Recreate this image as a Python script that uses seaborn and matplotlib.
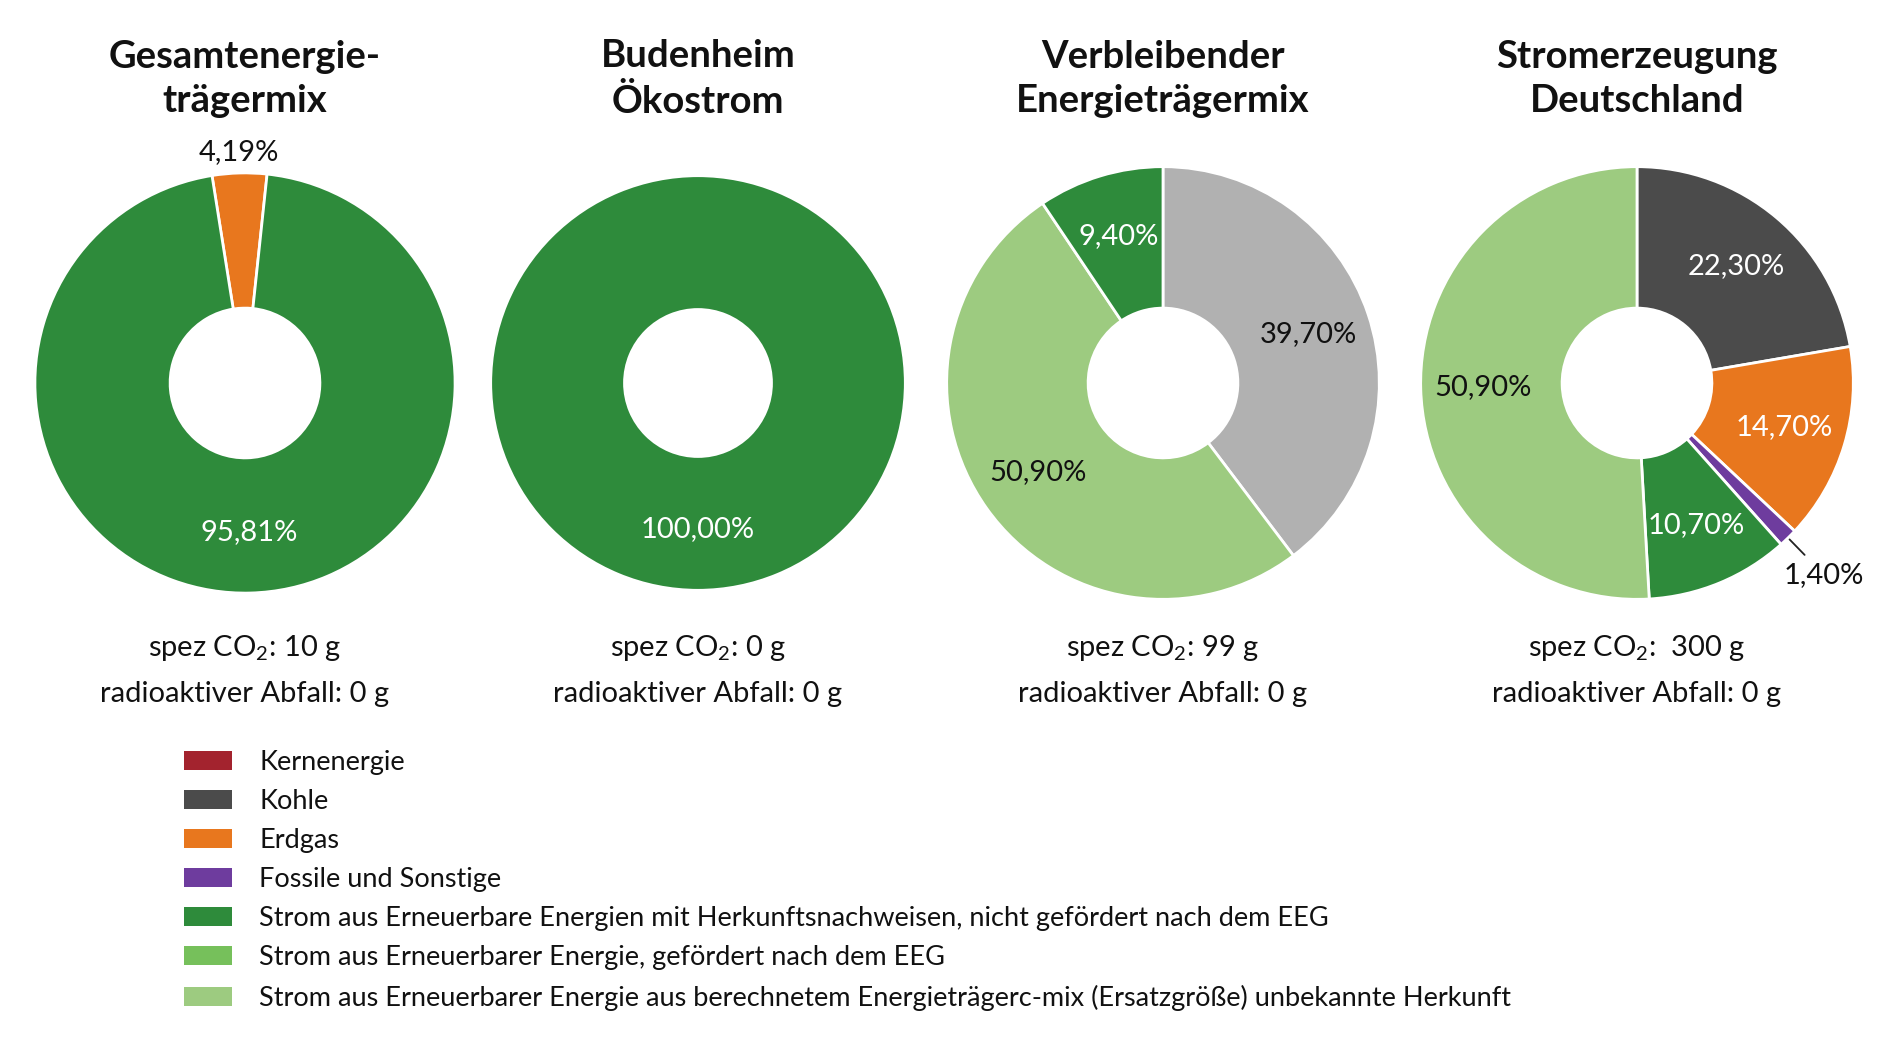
import numpy as np
import matplotlib
matplotlib.use("Agg")
import matplotlib.pyplot as plt
from matplotlib.patches import Patch
import seaborn as sns

# Chart data
titles = ["Gesamtenergie-\nträgermix", "Budenheim\nÖkostrom",
          "Verbleibender\nEnergieträgermix", "Stromerzeugung\nDeutschland"]
co2_values = ["10 g", "0 g", "99 g", " 300 g"]
waste_values = ["0 g", "0 g", "0 g", "0 g"]

gesamt_cats = ["Erdgas", "EE_HKN"]
gesamt_vals = [4.19, 95.81]

oekostrom_cats = ["EE_HKN"]
oekostrom_vals = [100.00]

verbleibend_cats = ["Rest", "EE_Ersatz", "EE_HKN"]
verbleibend_vals = [39.70, 50.90, 9.40]

deutschland_cats = ["Kohle", "Erdgas", "Fossile", "EE_HKN", "EE_Ersatz"]
deutschland_vals = [22.30, 14.70, 1.40, 10.70, 50.90]

legend_keys = ["Kern", "Kohle", "Erdgas", "Fossile", "EE_HKN", "EE_EEG", "EE_Ersatz"]
legend_labels = [
    "Kernenergie",
    "Kohle",
    "Erdgas",
    "Fossile und Sonstige",
    "Strom aus Erneuerbare Energien mit Herkunftsnachweisen, nicht gefördert nach dem EEG",
    "Strom aus Erneuerbarer Energie, gefördert nach dem EEG",
    "Strom aus Erneuerbarer Energie aus berechnetem Energieträgerc-mix (Ersatzgröße) unbekannte Herkunft",
]

# Styling
colors = {
    "Kern": "#A3232E",
    "Kohle": "#4B4B4B",
    "Erdgas": "#E8771E",
    "Fossile": "#6E3C9E",
    "EE_HKN": "#2E8B3B",
    "EE_EEG": "#76C05B",
    "EE_Ersatz": "#9DCB80",
    "Rest": "#B1B1B1",
}
dark = {"Kohle", "Erdgas", "EE_HKN", "Fossile", "Kern"}

sns.set_theme(style="white")
plt.rcParams["font.family"] = ["Lato", "DejaVu Sans"]
plt.rcParams["mathtext.fontset"] = "custom"
plt.rcParams["mathtext.rm"] = "Lato"

W, H = 1900, 1047
fig = plt.figure(figsize=(W / 100, H / 100), dpi=100)
fig.patch.set_facecolor("white")

charts = [(gesamt_cats, gesamt_vals), (oekostrom_cats, oekostrom_vals),
          (verbleibend_cats, verbleibend_vals), (deutschland_cats, deutschland_vals)]
centers_x = [245, 698, 1163, 1637]
center_y = 383
radii = [1.01, 0.99, 1.04, 1.04]
start_angles = [90 + gesamt_vals[0] * 3.6 / 2 + 1.5, 90, 90, 90]
hole = 0.36
box = 520

for i, (cats, vals) in enumerate(charts):
    cx = centers_x[i]
    ax = fig.add_axes([(cx - box / 2) / W, 1 - (center_y + box / 2) / H, box / W, box / H])
    r = radii[i]
    wedges, _ = ax.pie(vals, colors=[colors[c] for c in cats], radius=r,
                       startangle=start_angles[i], counterclock=False,
                       wedgeprops=dict(width=r - hole, edgecolor="white",
                                       linewidth=2 if len(vals) > 1 else 0))
    ax.set_xlim(-1.25, 1.25)
    ax.set_ylim(-1.25, 1.25)
    ax.set_aspect("equal")
    ax.axis("off")

    for w, c, v in zip(wedges, cats, vals):
        ang = np.deg2rad((w.theta1 + w.theta2) / 2)
        txt = f"{v:.2f}%".replace(".", ",")
        if v < 2:
            ax.plot([r * 1.01 * np.cos(ang), r * 1.11 * np.cos(ang)],
                    [r * 1.01 * np.sin(ang), r * 1.11 * np.sin(ang)],
                    color="#222222", lw=1.3)
            d, col = 1.24, "#111111"
        elif v < 5:
            d, col = 1.10, "#111111"
        else:
            d, col = 0.71, ("white" if c in dark else "#111111")
        ax.text(r * d * np.cos(ang), r * d * np.sin(ang), txt, ha="center",
                va="center", fontsize=21, color=col)

    fig.text(cx / W, 1 - 79 / H, titles[i], ha="center", va="center",
             fontsize=27.5, fontweight="bold", color="#111111", linespacing=1.36)
    fig.text(cx / W, 1 - 648 / H, "spez CO$_\\mathregular{2}$: " + co2_values[i],
             ha="center", va="center", fontsize=21, color="#111111")
    fig.text(cx / W, 1 - 694 / H, "radioaktiver Abfall: " + waste_values[i],
             ha="center", va="center", fontsize=21, color="#111111")

handles = [Patch(facecolor=colors[k], edgecolor="none") for k in legend_keys]
fig.legend(handles, legend_labels, loc="upper left", bbox_to_anchor=(184 / W, 1 - 750 / H),
           frameon=False, fontsize=19.5, handlelength=1.78, handleheight=0.7,
           handletextpad=1.0, labelspacing=0.52, borderpad=0, borderaxespad=0,
           labelcolor="#111111")

fig.savefig("out.png", dpi=100, facecolor="white")
